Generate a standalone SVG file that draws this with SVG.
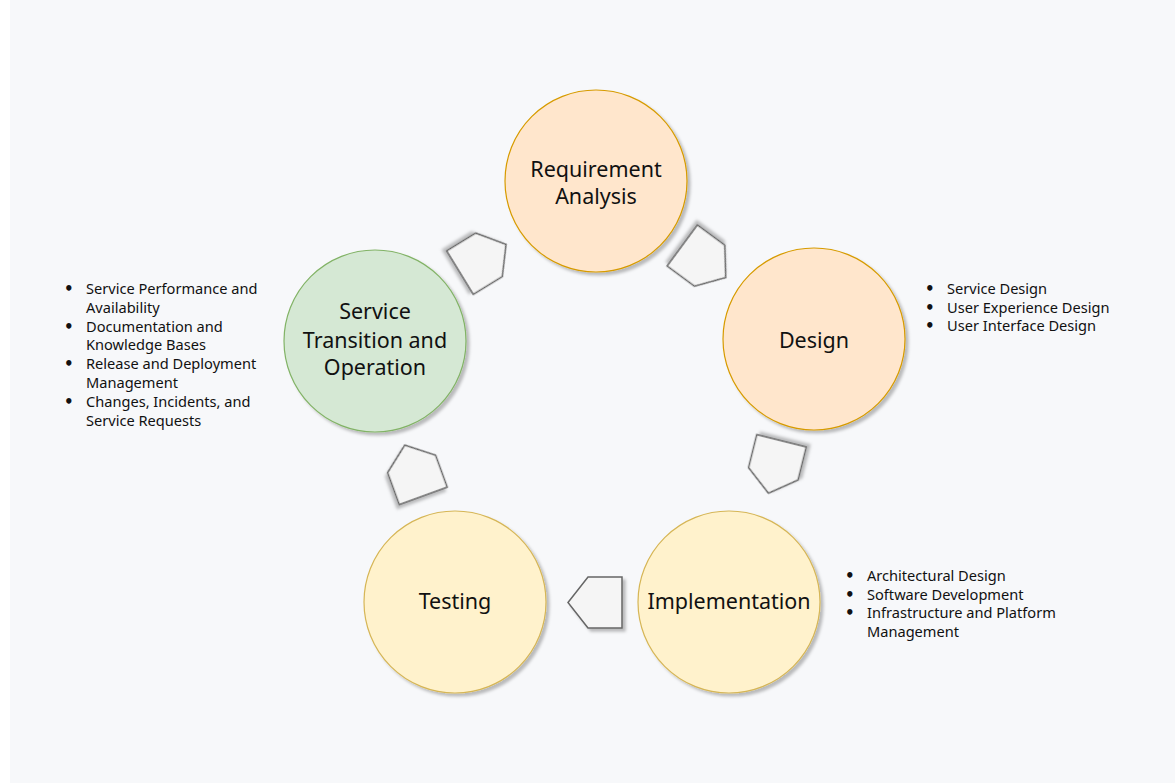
<svg xmlns="http://www.w3.org/2000/svg" width="1175" height="783" viewBox="0 0 1175 783">
<defs>
<filter id="sh" x="-20%" y="-20%" width="140%" height="140%">
<feDropShadow dx="3" dy="3" stdDeviation="1.5" flood-color="#000" flood-opacity="0.25"/>
</filter>
<polygon id="pent" points="-27,0 -7,-25.5 27,-25.5 27,25.5 -7,25.5"/>
</defs>
<style>
.bg{fill:#f7f8fa}
.orange{fill:#ffe6cc;stroke:#d79b00;stroke-width:1.2}
.yellow{fill:#fff2cc;stroke:#d6b656;stroke-width:1.2}
.green{fill:#d5e8d4;stroke:#82b366;stroke-width:1.2}
.node circle{filter:url(#sh)}
.lbl{font-family:"Noto Sans","DejaVu Sans",sans-serif;font-size:21.5px;fill:#111;text-anchor:middle}
.lst{font-family:"Noto Sans","DejaVu Sans",sans-serif;font-size:14.6px;fill:#111}
.bul{font-family:"DejaVu Sans",sans-serif;font-size:15px;fill:#111;font-weight:bold}
.arr{fill:#f5f5f5;stroke:#666;stroke-width:1.5;filter:url(#sh)}
</style>
<rect class="bg" x="0" y="0" width="1175" height="783"/>
<rect x="0" y="0" width="10" height="783" fill="#ffffff"/>

<g id="connectors">
<use href="#pent" class="arr" transform="translate(483,258.5) rotate(148.5)"/>
<use href="#pent" class="arr" transform="translate(704,261.5) rotate(-143.6)"/>
<use href="#pent" class="arr" transform="translate(775,467) rotate(-76)"/>
<use href="#pent" class="arr" transform="translate(595,602.5)"/>
<use href="#pent" class="arr" transform="translate(414,470.5) rotate(70)"/>
</g>

<g id="node-requirement" class="node">
<circle class="orange" cx="596" cy="181" r="91"/>
<text class="lbl" x="596" y="177">Requirement</text>
<text class="lbl" x="596" y="204">Analysis</text>
</g>
<g id="node-design" class="node">
<circle class="orange" cx="814" cy="339" r="91"/>
<text class="lbl" x="814" y="348">Design</text>
</g>
<g id="node-implementation" class="node">
<circle class="yellow" cx="729" cy="602" r="91"/>
<text class="lbl" x="729" y="609">Implementation</text>
</g>
<g id="node-testing" class="node">
<circle class="yellow" cx="455" cy="602" r="91"/>
<text class="lbl" x="455" y="609">Testing</text>
</g>
<g id="node-service" class="node">
<circle class="green" cx="375" cy="341" r="91"/>
<text class="lbl" x="375" y="319">Service</text>
<text class="lbl" x="375" y="348">Transition and</text>
<text class="lbl" x="375" y="375">Operation</text>
</g>

<g id="list-service">
<text class="bul" x="64" y="294">•</text><text class="lst" x="86" y="294">Service Performance and</text>
<text class="lst" x="86" y="312.8">Availability</text>
<text class="bul" x="64" y="331.6">•</text><text class="lst" x="86" y="331.6">Documentation and</text>
<text class="lst" x="86" y="350.4">Knowledge Bases</text>
<text class="bul" x="64" y="369.2">•</text><text class="lst" x="86" y="369.2">Release and Deployment</text>
<text class="lst" x="86" y="388">Management</text>
<text class="bul" x="64" y="406.8">•</text><text class="lst" x="86" y="406.8">Changes, Incidents, and</text>
<text class="lst" x="86" y="425.6">Service Requests</text>
</g>
<g id="list-design">
<text class="bul" x="925" y="294">•</text><text class="lst" x="947" y="294">Service Design</text>
<text class="bul" x="925" y="312.5">•</text><text class="lst" x="947" y="312.5">User Experience Design</text>
<text class="bul" x="925" y="331">•</text><text class="lst" x="947" y="331">User Interface Design</text>
</g>
<g id="list-implementation">
<text class="bul" x="845" y="581">•</text><text class="lst" x="867" y="581">Architectural Design</text>
<text class="bul" x="845" y="599.5">•</text><text class="lst" x="867" y="599.5">Software Development</text>
<text class="bul" x="845" y="618">•</text><text class="lst" x="867" y="618">Infrastructure and Platform</text>
<text class="lst" x="867" y="637">Management</text>
</g>
</svg>
